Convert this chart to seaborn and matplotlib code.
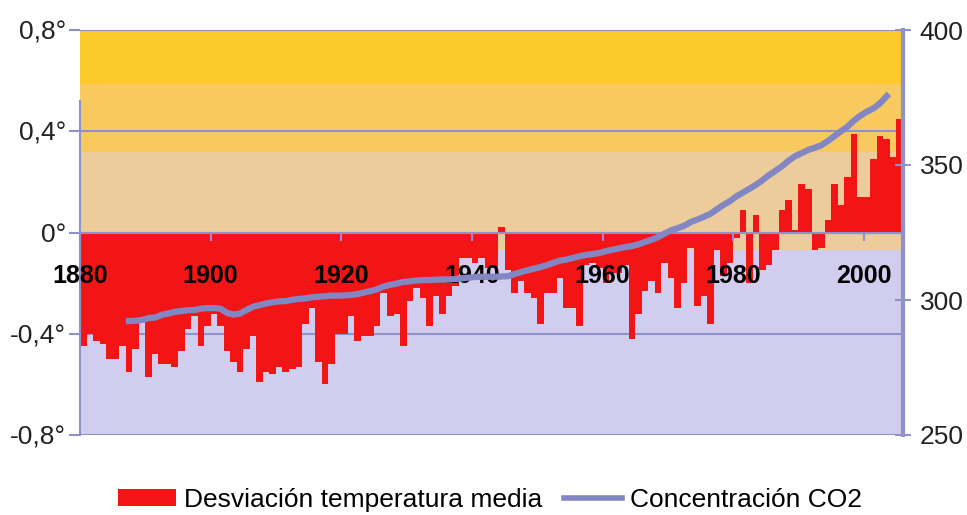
import numpy as np
import pandas as pd
import matplotlib
matplotlib.use("Agg")
import matplotlib.pyplot as plt
import seaborn as sns
from matplotlib.patches import Patch
from matplotlib.lines import Line2D

# ---------------- data ----------------
years = list(range(1880, 2006))
temps = [
    -0.45, -0.40, -0.43, -0.44, -0.50, -0.50, -0.45, -0.55, -0.46, -0.35,  # 1880s
    -0.57, -0.48, -0.52, -0.52, -0.53, -0.47, -0.38, -0.33, -0.45, -0.37,  # 1890s
    -0.32, -0.37, -0.47, -0.51, -0.55, -0.46, -0.41, -0.59, -0.55, -0.56,  # 1900s
    -0.53, -0.55, -0.54, -0.53, -0.36, -0.30, -0.51, -0.60, -0.52, -0.40,  # 1910s
    -0.40, -0.33, -0.43, -0.41, -0.41, -0.37, -0.24, -0.33, -0.32, -0.45,  # 1920s
    -0.27, -0.22, -0.26, -0.37, -0.25, -0.32, -0.25, -0.21, -0.10, -0.10,  # 1930s
    -0.12, -0.10, -0.14, -0.14, 0.02, -0.15, -0.24, -0.19, -0.24, -0.26,   # 1940s
    -0.36, -0.24, -0.24, -0.18, -0.30, -0.30, -0.37, -0.13, -0.12, -0.14,  # 1950s
    -0.20, -0.16, -0.16, -0.13, -0.42, -0.32, -0.23, -0.19, -0.24, -0.12,  # 1960s
    -0.18, -0.30, -0.20, -0.06, -0.29, -0.25, -0.36, -0.07, -0.17, -0.12,  # 1970s
    -0.02, 0.09, -0.20, 0.07, -0.15, -0.13, -0.07, 0.09, 0.13, 0.01,       # 1980s
    0.19, 0.17, -0.07, -0.06, 0.05, 0.19, 0.11, 0.22, 0.39, 0.14,          # 1990s
    0.14, 0.29, 0.38, 0.37, 0.30, 0.45,                                    # 2000s
]

co2_years = list(range(1887, 2004))
co2 = [
    292.2, 292.3, 292.6,                                                   # 1887-1889
    293.3, 293.5, 294.5, 295.0, 295.6, 295.9, 296.2, 296.3, 296.8, 297.0,  # 1890s
    297.0, 296.8, 295.2, 294.6, 295.0, 296.3, 297.5, 298.1, 298.7, 299.2,  # 1900s
    299.5, 299.6, 300.1, 300.4, 300.6, 301.0, 301.2, 301.4, 301.6, 301.6,  # 1910s
    301.7, 301.9, 302.2, 302.8, 303.3, 304.0, 305.0, 305.6, 306.1, 306.7,  # 1920s
    306.9, 307.2, 307.4, 307.4, 307.5, 307.6, 307.6, 307.8, 308.0, 308.3,  # 1930s
    308.5, 308.6, 308.6, 308.6, 308.7, 308.8, 309.6, 310.3, 311.0, 311.6,  # 1940s
    312.2, 312.9, 313.8, 314.6, 315.0, 315.6, 316.2, 316.7, 317.0, 317.4,  # 1950s
    318.1, 318.6, 319.1, 319.6, 320.0, 320.6, 321.5, 322.3, 323.3, 324.6,  # 1960s
    325.8, 326.6, 327.5, 328.9, 329.8, 330.8, 331.9, 333.6, 335.2, 336.6,  # 1970s
    338.4, 339.8, 341.2, 342.7, 344.4, 346.3, 347.9, 349.6, 351.6, 353.3,  # 1980s
    354.4, 355.6, 356.4, 357.3, 358.9, 360.7, 362.5, 364.2, 366.5, 368.3,  # 1990s
    369.8, 371.0, 372.9, 375.5,                                            # 2000-2003
]

x_tick_years = [1880, 1900, 1920, 1940, 1960, 1980, 2000]
x_tick_labels = ["1880", "1900", "1920", "1940", "1960", "1980", "2000"]
left_ticks = [-0.8, -0.4, 0.0, 0.4, 0.8]
left_tick_labels = ["-0,8°", "-0,4°", "0°", "0,4°", "0,8°"]
right_ticks = [250, 300, 350, 400]
right_tick_labels = ["250", "300", "350", "400"]
legend_labels = ["Desviación temperatura media", "Concentración CO2"]

# ---------------- style ----------------
RED = "#F31515"
LINE = "#8286C2"
GRID = "#8E92C8"
BANDS = [(-0.8, -0.07, "#D1CDEE"), (-0.07, 0.317, "#EDCC9C"),
         (0.317, 0.586, "#F8C95E"), (0.586, 0.8, "#FCCA2A")]

plt.rcParams["font.family"] = ["Liberation Sans", "DejaVu Sans"]

df = pd.DataFrame({"year": years, "temp": temps})
dco2 = pd.DataFrame({"year": co2_years, "co2": co2})

fig = plt.figure(figsize=(9.67, 5.15), dpi=100)
ax = fig.add_axes([80 / 967, 1 - 435 / 515, 823 / 967, 405 / 515])

for lo, hi, c in BANDS:
    ax.axhspan(lo, hi, color=c, zorder=0.1, lw=0)

sns.barplot(data=df, x="year", y="temp", native_scale=True, width=1,
            color=RED, saturation=1, edgecolor="none", linewidth=0,
            errorbar=None, ax=ax, zorder=1)

ax2 = ax.twinx()
sns.lineplot(data=dco2, x="year", y="co2", ax=ax2, color=LINE, linewidth=4.5)

ax.set_xlim(1879.5, 2005.5)
ax.set_ylim(-0.8, 0.8)
ax.set_axisbelow(True)
ax.yaxis.grid(True, color=GRID, lw=1.5)
ax.xaxis.grid(False)
ax.xaxis.set_zorder(3)

ax.set_yticks(left_ticks)
ax.set_yticklabels(left_tick_labels)
ax.set_xticks([y - 0.5 for y in x_tick_years])
ax.set_xticklabels(x_tick_labels)
ax.tick_params(axis="x", direction="out", length=6, width=1.5, color=GRID,
               pad=17, labelsize=18, labelcolor="black")
ax.tick_params(axis="y", direction="out", length=8, width=1.5, color=GRID,
               pad=2, labelsize=19, labelcolor="#222222")
ax.set_xlabel("")
ax.set_ylabel("")

ax.spines["bottom"].set_position(("data", 0))
ax.spines["bottom"].set_color(GRID)
ax.spines["bottom"].set_linewidth(1.5)
ax.spines["left"].set_color(GRID)
ax.spines["left"].set_linewidth(1.5)
ax.spines["left"].set_bounds(-0.8, 0.52)
ax.spines["top"].set_visible(False)
ax.spines["right"].set_visible(False)

ax2.set_ylim(250, 400)
ax2.set_yticks(right_ticks)
ax2.set_yticklabels(right_tick_labels)
ax2.set_xlabel("")
ax2.set_ylabel("")
ax2.tick_params(axis="y", direction="inout", length=12, width=1.5, color=GRID,
                pad=6, labelsize=19, labelcolor="#222222")
ax2.tick_params(axis="x", bottom=False, labelbottom=False)
for t in ax2.yaxis.get_major_ticks():
    if t.get_loc() in (300, 350):
        t.tick2line.set_color("#111111")
for s in ("top", "bottom", "left"):
    ax2.spines[s].set_visible(False)
ax2.spines["right"].set_color(GRID)
ax2.spines["right"].set_linewidth(3)

handles = [Patch(facecolor=RED, edgecolor="none"),
           Line2D([], [], color=LINE, lw=4)]
fig.legend(handles, legend_labels, loc="center",
           bbox_to_anchor=(490 / 967, 1 - 500 / 515), ncol=2, frameon=False,
           fontsize=19, handlelength=2.2, handleheight=0.6,
           handletextpad=0.3, columnspacing=0.8)

fig.canvas.draw()
for t in ax.xaxis.get_major_ticks():
    t.label1.set_fontweight("bold")

fig.savefig("out.png", dpi=100)
